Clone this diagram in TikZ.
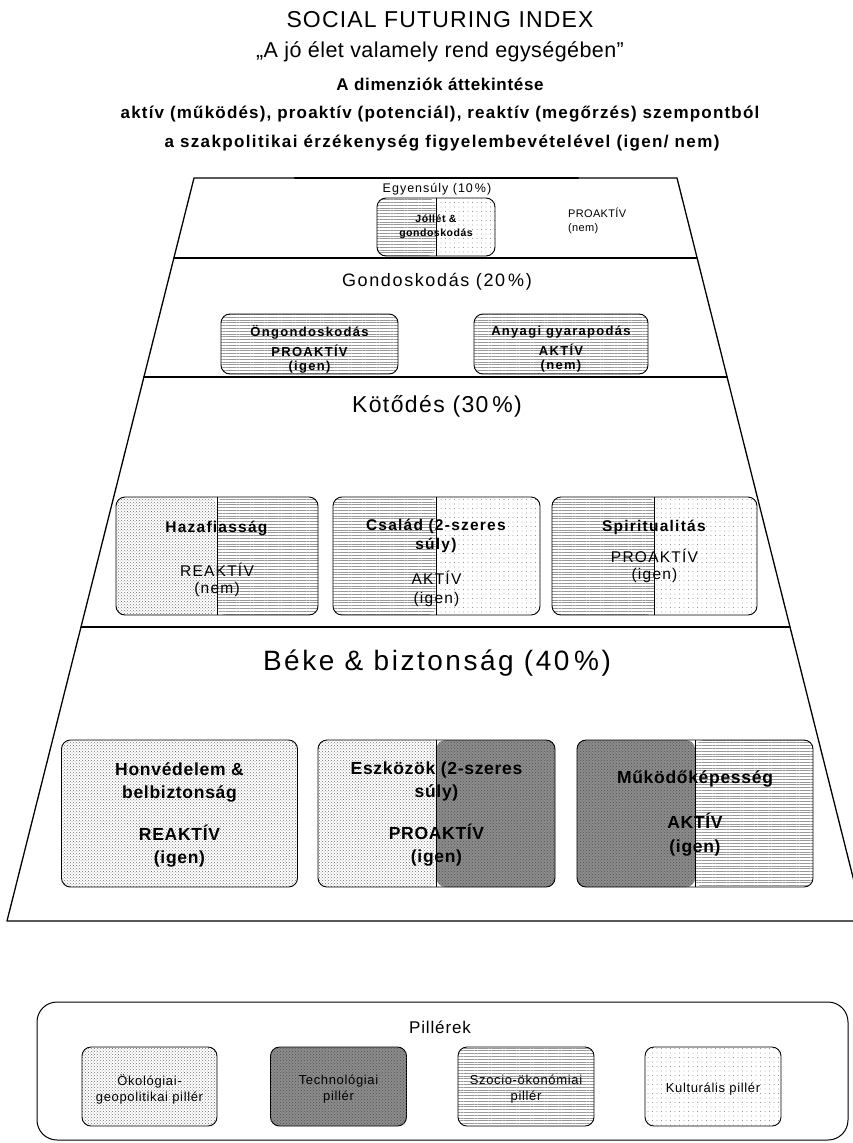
\documentclass[tikz,border=0pt]{standalone}
\usepackage{fontspec}
\setmainfont{Liberation Sans}
\usepackage{tikz}
\usepackage{tkz-euclide}
\usetikzlibrary{patterns,patterns.meta}

% font size with letter spacing
\newcommand{\fsz}[3]{\fontsize{#1}{#2}\selectfont\addfontfeature{LetterSpace=#3}}

\tikzset{
  ecofill/.style={pattern=crosshatch dots, pattern color=black!55},
  techfill/.style={fill=black!45, postaction={pattern=crosshatch dots, pattern color=black!68}},
  socfill/.style={pattern={Lines[angle=0,distance=2.8pt,line width=0.4pt]}, pattern color=black!40},
  culfill/.style={pattern={Dots[distance=4.5pt,radius=0.45pt]}, pattern color=black!65},
  pillar/.style={draw, line width=0.9pt, rounded corners=9pt, inner sep=0pt},
  boxtext/.style={align=center, inner sep=0pt},
  split/.style 2 args={path picture={
      \fill[#1] (path picture bounding box.south west) rectangle (path picture bounding box.north);
      \fill[#2] (path picture bounding box.south) rectangle (path picture bounding box.north east);
      \draw[line width=0.9pt] (path picture bounding box.south) -- (path picture bounding box.north);}},
  leveltitle/.style={inner sep=0pt},
}

\begin{document}
\begin{tikzpicture}[x=1pt,y=-1pt]
    \useasboundingbox (0,0) rectangle (853,1143);

    % title
    \node[leveltitle, font=\fsz{23}{27}{5}] (title) at (440,20) {SOCIAL FUTURING INDEX};
    \node[leveltitle, font=\fsz{21.5}{25}{2}] (motto) at (440,52) {„A jó élet valamely rend egységében”};
    \node[leveltitle, font=\bfseries\fsz{17}{20}{4}] (sub1) at (440,84) {A dimenziók áttekintése};
    \node[leveltitle, font=\bfseries\fsz{17}{20}{7}] (sub2) at (440,114) {aktív (működés), proaktív (potenciál), reaktív (megőrzés) szempontból};
    \node[leveltitle, font=\bfseries\fsz{17}{20}{8}] (sub3) at (442,143) {a szakpolitikai érzékenység figyelembevételével (igen/ nem)};

    % pyramid
    \tkzDefPoint(194,178){A}
    \tkzDefPoint(677,178){B}
    \tkzDefPoint(864,921){C}
    \tkzDefPoint(7,921){D}
    \tkzDefPoint(173.9,258){L1}
    \tkzDefPoint(697.1,258){R1}
    \tkzDefPoint(143.9,377){L2}
    \tkzDefPoint(727.1,377){R2}
    \tkzDefPoint(81,627){L3}
    \tkzDefPoint(790,627){R3}
    \tkzDefPoint(295,178){T1}
    \tkzDefPoint(578,178){T2}
    \tkzDrawPolygon[line width=1.3pt](A,B,C,D)
    \tkzDrawSegments[line width=1.3pt](L1,R1 L2,R2 L3,R3)
    \tkzDrawSegment[line width=2.2pt](T1,T2)

    % level 1
    \node[leveltitle, font=\fsz{12.5}{15}{8}] (egyensuly) at (437,189) {Egyensúly (10\,\%)};
    \node[pillar, split={socfill}{culfill}, minimum width=118pt, minimum height=58pt] (jollet) at (436,227) {};
    \node[boxtext, font=\bfseries\fsz{10.5}{14}{5}] (jollet-t) at (jollet.center) {Jóllét \&\\gondoskodás};
    \node[leveltitle, anchor=west, align=left, font=\fsz{11}{14}{3}] (pro1) at (568,221) {PROAKTÍV\\(nem)};

    % level 2
    \node[leveltitle, font=\fsz{18}{22}{9}] (gondos) at (437,282) {Gondoskodás (20\,\%)};
    \node[pillar, socfill, minimum width=177pt, minimum height=60pt] (ongond) at (309.5,344) {};
    \node[boxtext, font=\bfseries\fsz{13}{14}{10}] (ongond-t) at ([yshift=-5pt]ongond.center) {Öngondoskodás\\[5pt]PROAKTÍV\\(igen)};
    \node[pillar, socfill, minimum width=174pt, minimum height=60pt] (anyagi) at (561,344) {};
    \node[boxtext, font=\bfseries\fsz{13}{14}{10}] (anyagi-t) at ([yshift=-5pt]anyagi.center) {Anyagi gyarapodás\\[5pt]AKTÍV\\(nem)};

    % level 3
    \node[leveltitle, font=\fsz{23}{27}{6}] (kotodes) at (437,406) {Kötődés (30\,\%)};
    \node[pillar, split={ecofill}{socfill}, minimum width=202pt, minimum height=118pt] (hazafi) at (217,556) {};
    \node[boxtext, font=\fsz{15.5}{17}{8}] (hazafi-t) at ([yshift=-3pt]hazafi.center) {\textbf{Hazafiasság}\\[27pt]REAKTÍV\\(nem)};
    \node[pillar, split={socfill}{culfill}, minimum width=207pt, minimum height=118pt] (csalad) at (436.5,556) {};
    \node[boxtext, font=\fsz{15.5}{19}{8}] (csalad-t) at ([yshift=-7pt]csalad.center) {\textbf{Család (2-szeres}\\\textbf{súly)}\\[16pt]AKTÍV\\(igen)};
    \node[pillar, split={socfill}{culfill}, minimum width=205pt, minimum height=118pt] (spirit) at (654.5,556) {};
    \node[boxtext, font=\fsz{15.5}{17}{8}] (spirit-t) at ([yshift=5pt]spirit.center) {\textbf{Spiritualitás}\\[14pt]PROAKTÍV\\(igen)};

    % level 4
    \node[leveltitle, font=\fsz{28}{32}{9}] (beke) at (437,663) {Béke \& biztonság (40\,\%)};
    \node[pillar, ecofill, minimum width=236pt, minimum height=147pt] (honved) at (179.5,813.5) {};
    \node[boxtext, font=\bfseries\fsz{17.5}{23}{4}] (honved-t) at ([yshift=-1pt]honved.center) {Honvédelem \&\\belbiztonság\\[19pt]REAKTÍV\\(igen)};
    \node[pillar, split={ecofill}{techfill}, minimum width=237pt, minimum height=147pt] (eszkoz) at (436.5,813.5) {};
    \node[boxtext, font=\bfseries\fsz{17.5}{23}{4}] (eszkoz-t) at ([yshift=-1pt]eszkoz.center) {Eszközök (2-szeres\\súly)\\[19pt]PROAKTÍV\\(igen)};
    \node[pillar, split={techfill}{socfill}, minimum width=236pt, minimum height=147pt] (mukodo) at (695,813.5) {};
    \node[boxtext, font=\bfseries\fsz{17.5}{24}{4}] (mukodo-t) at ([yshift=0pt]mukodo.center) {Működőképesség\\[21pt]AKTÍV\\(igen)};

    % legend
    \node[draw, line width=1pt, rounded corners=20pt, minimum width=811pt, minimum height=138pt] (legend) at (442.5,1071) {};
    \node[leveltitle, font=\fsz{17}{20}{5}] (piller) at (440,1027) {Pillérek};
    \node[pillar, ecofill, minimum width=135pt, minimum height=79pt] (eco) at (149.5,1086.5) {};
    \node[boxtext, font=\fsz{13}{16}{5}] (eco-t) at ([yshift=-3pt]eco.center) {Ökológiai-\\geopolitikai pillér};
    \node[pillar, techfill, minimum width=136pt, minimum height=79pt] (tech) at (338.5,1086.5) {};
    \node[boxtext, font=\fsz{13}{16}{5}] (tech-t) at ([yshift=-3pt]tech.center) {Technológiai\\pillér};
    \node[pillar, socfill, minimum width=136pt, minimum height=79pt] (soc) at (526,1086.5) {};
    \node[boxtext, font=\fsz{13}{16}{5}] (soc-t) at ([yshift=-3pt]soc.center) {Szocio-ökonómiai\\pillér};
    \node[pillar, culfill, minimum width=136pt, minimum height=79pt] (cul) at (713,1086.5) {};
    \node[boxtext, font=\fsz{13}{16}{5}] (cul-t) at ([yshift=-3pt]cul.center) {Kulturális pillér};
\end{tikzpicture}
\end{document}
